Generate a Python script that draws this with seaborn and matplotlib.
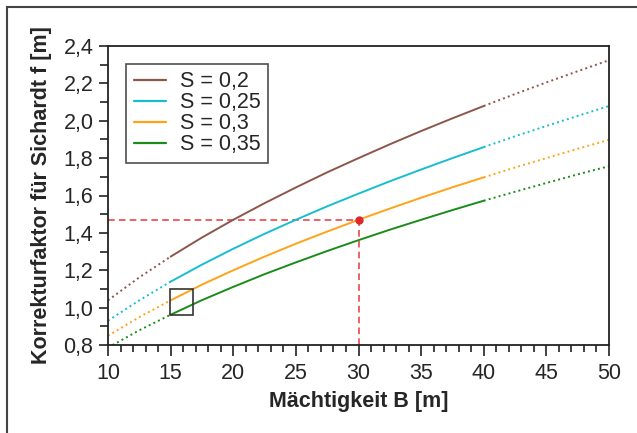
import matplotlib
matplotlib.use("Agg")
import matplotlib.pyplot as plt
import matplotlib.ticker as mticker
from matplotlib.patches import Rectangle
import seaborn as sns
import pandas as pd

# Mächtigkeit B [m]
B = [10, 12.5, 15, 17.5, 20, 22.5, 25, 27.5, 30, 32.5, 35, 37.5, 40, 42.5, 45, 47.5, 50]

# Korrekturfaktor f, one list per S
f_s020 = [1.039, 1.162, 1.273, 1.375, 1.470, 1.559, 1.643, 1.724, 1.800,
          1.874, 1.945, 2.013, 2.079, 2.143, 2.205, 2.265, 2.324]
f_s025 = [0.930, 1.039, 1.139, 1.230, 1.315, 1.395, 1.470, 1.542, 1.610,
          1.676, 1.739, 1.800, 1.859, 1.917, 1.972, 2.026, 2.079]
f_s030 = [0.849, 0.949, 1.039, 1.123, 1.200, 1.273, 1.342, 1.407, 1.470,
          1.530, 1.588, 1.644, 1.697, 1.750, 1.800, 1.850, 1.898]
f_s035 = [0.786, 0.879, 0.962, 1.040, 1.111, 1.179, 1.242, 1.303, 1.361,
          1.417, 1.470, 1.522, 1.572, 1.620, 1.667, 1.713, 1.757]

labels = ["S = 0,2", "S = 0,25", "S = 0,3", "S = 0,35"]
colors = ["#8c564b", "#17becf", "#ffa31a", "#1a8c1a"]

# Ablesebeispiel
B_ex = 30
f_ex = 1.47

rows = []
for lab, vals in zip(labels, [f_s020, f_s025, f_s030, f_s035]):
    for b, f in zip(B, vals):
        rows.append([b, f, lab])
df = pd.DataFrame(rows, columns=["B", "f", "S"])

sns.set_style("ticks")
plt.rcParams["font.family"] = ["Liberation Sans", "DejaVu Sans"]

fig = plt.figure(figsize=(6.37, 4.33), dpi=100)
ax = fig.add_axes([108 / 637, 1 - 345 / 433, 501 / 637, 299 / 433])
pal = dict(zip(labels, colors))

# gueltiger Bereich: durchgezogen
sns.lineplot(data=df[(df.B >= 15) & (df.B <= 40)], x="B", y="f", hue="S",
             palette=pal, hue_order=labels, linewidth=1.4, ax=ax)
# Extrapolation: gepunktet
sns.lineplot(data=df[df.B <= 15], x="B", y="f", hue="S", palette=pal,
             linewidth=1.4, linestyle=":", legend=False, ax=ax)
sns.lineplot(data=df[df.B >= 40], x="B", y="f", hue="S", palette=pal,
             linewidth=1.4, linestyle=":", legend=False, ax=ax)

ax.plot([10, B_ex], [f_ex, f_ex], color="#e8474c", lw=1.2, ls=(0, (4, 2.5)), zorder=1)
ax.plot([B_ex, B_ex], [0.8, f_ex], color="#e8474c", lw=1.2, ls=(0, (4, 2.5)), zorder=1)
ax.plot([B_ex], [f_ex], "o", color="#d92a2a", ms=5, zorder=5)

ax.add_patch(Rectangle((14.95, 0.96), 1.85, 0.14, fill=False, ec="#333333", lw=1.2, zorder=6))

ax.set_xlim(10, 50)
ax.set_ylim(0.8, 2.4)
ax.xaxis.set_major_locator(mticker.MultipleLocator(5))
ax.xaxis.set_minor_locator(mticker.MultipleLocator(1))
ax.yaxis.set_major_locator(mticker.MultipleLocator(0.2))
ax.yaxis.set_minor_locator(mticker.MultipleLocator(0.1))
ax.yaxis.set_major_formatter(mticker.FuncFormatter(lambda v, p: f"{v:.1f}".replace(".", ",")))
ax.tick_params(which="both", direction="out", width=1.2, color="#222222")
ax.tick_params(which="major", labelsize=15.5)
ax.tick_params(axis="x", which="major", length=8, pad=5)
ax.tick_params(axis="x", which="minor", length=5)
ax.tick_params(axis="y", which="major", length=6.5, pad=4)
ax.tick_params(axis="y", which="minor", length=6)
for sp in ax.spines.values():
    sp.set_linewidth(1.3)
    sp.set_color("#222222")

ax.set_xlabel("Mächtigkeit B [m]", fontsize=15.5, fontweight="bold", labelpad=5)
ax.set_ylabel("Korrekturfaktor für Sichardt f [m]", fontsize=15.5, fontweight="bold", labelpad=8)

leg = ax.legend(loc="upper left", bbox_to_anchor=(0.036, 0.94), borderaxespad=0,
                fontsize=15.5, frameon=True, fancybox=False, edgecolor="#222222",
                handlelength=1.5, handletextpad=0.65, borderpad=0.35,
                labelspacing=0.0, title=None)
leg.get_frame().set_linewidth(1.2)
for h in leg.get_lines():
    h.set_linewidth(1.6)

# Rahmen um die Abbildung
fig.patches.append(Rectangle((7 / 637, -0.1), 1.2, 1 - 7 / 433 + 0.1, transform=fig.transFigure,
                             fill=False, ec="#444444", lw=1.5))

fig.savefig("out.png", dpi=100)
